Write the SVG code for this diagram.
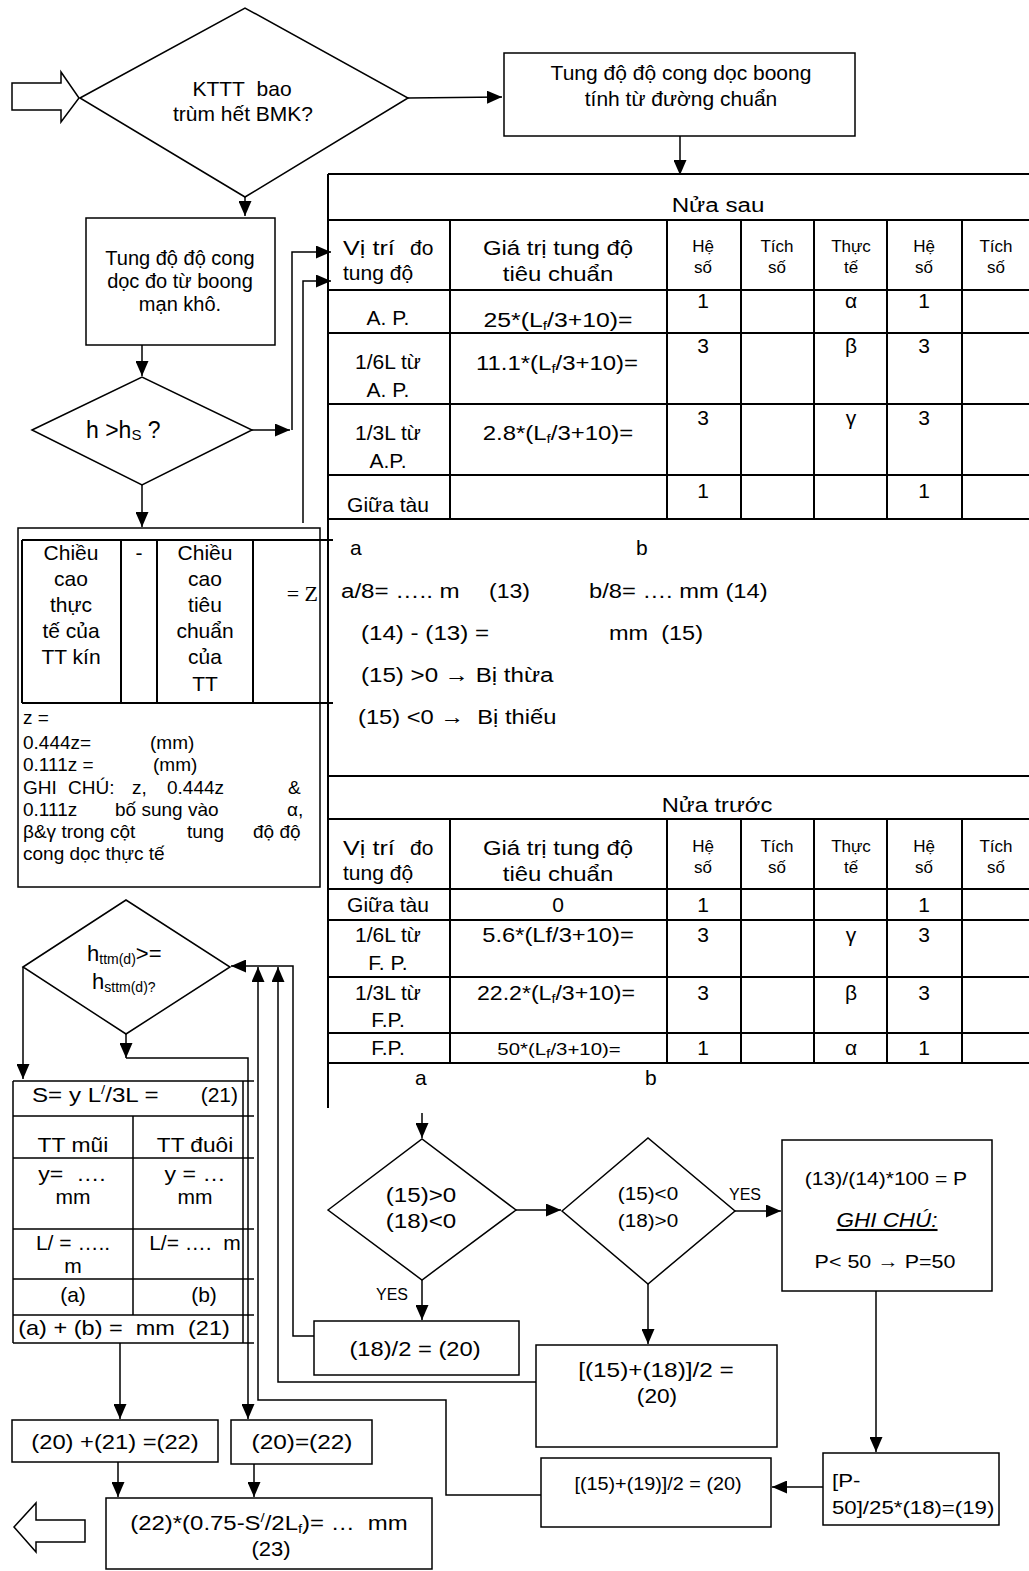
<svg xmlns="http://www.w3.org/2000/svg" width="1029" height="1571" viewBox="0 0 1029 1571">
<defs>
<marker id="ah" viewBox="0 0 15 13" refX="15" refY="6.5" markerWidth="15" markerHeight="13" markerUnits="userSpaceOnUse" orient="auto"><path d="M0,0L15,6.5L0,13z" fill="#000"/></marker>
<style>
.s{fill:none;stroke:#000;stroke-width:1.5}
.tb{fill:none;stroke:#000;stroke-width:2}
.c{fill:none;stroke:#000;stroke-width:1.5;marker-end:url(#ah)}
text{font-family:"Liberation Sans",Arial,sans-serif;font-size:21px;fill:#000}
.m{text-anchor:middle}
.e{text-anchor:end}
.sm{font-size:17px}
.xs{font-size:16px}
.f19{font-size:19px}
.sub{font-size:13px}
</style>
</defs>
<rect width="1029" height="1571" fill="#fff"/>

<g id="start-arrow"><polygon class="s" points="12,83 61,83 61,72 79,98 61,122 61,110 12,110"/></g>

<g id="d-kttt">
<polygon class="s" points="80,98 245,8 408,98 245,197"/>
<text class="m" x="242" y="96">KTTT&#160; bao</text>
<text class="m" x="243" y="121">trùm hết BMK?</text>
</g>

<g id="b-tungdo-chuan">
<rect class="s" x="504" y="53" width="351" height="83"/>
<text class="m" x="681" y="80">Tung độ độ cong dọc boong</text>
<text class="m" x="681" y="106">tính từ đường chuẩn</text>
</g>

<g id="b-tungdo-man">
<rect class="s" x="86" y="218" width="189" height="127"/>
<text class="m" x="180" y="265" style="font-size:20px">Tung độ độ cong</text>
<text class="m" x="180" y="288" style="font-size:20px">dọc đo từ boong</text>
<text class="m" x="180" y="311" style="font-size:20px">mạn khô.</text>
</g>

<g id="d-hhs">
<polygon class="s" points="32,430 142,377 252,430 142,485"/>
<text x="86" y="438" style="font-size:23px">h &gt;h<tspan style="font-size:15px" dy="2">S</tspan><tspan dy="-2"> ?</tspan></text>
</g>

<g id="b-z">
<rect class="s" x="18" y="528" width="302" height="359"/>
<path class="tb" d="M22,540H333M22,703H333M22,540V703M121,540V703M157,540V703M253,540V703"/>
<text class="m" x="71" y="560">Chiều</text>
<text class="m" x="71" y="586">cao</text>
<text class="m" x="71" y="612">thực</text>
<text class="m" x="71" y="638">tế của</text>
<text class="m" x="71" y="664">TT kín</text>
<text class="m" x="139" y="560">-</text>
<text class="m" x="205" y="560">Chiều</text>
<text class="m" x="205" y="586">cao</text>
<text class="m" x="205" y="612">tiêu</text>
<text class="m" x="205" y="638">chuẩn</text>
<text class="m" x="205" y="664">của</text>
<text class="m" x="205" y="691">TT</text>
<text x="318" y="601" style="font-family:'Liberation Serif','Times New Roman',serif;font-size:22px;text-anchor:end">= Z</text>
<text class="f19" x="23" y="724">z =</text>
<text class="f19" x="23" y="749">0.444z=</text><text class="f19" x="150" y="749">(mm)</text>
<text class="f19" x="23" y="771">0.111z =</text><text class="f19" x="153" y="771">(mm)</text>
<text class="f19" x="23" y="794">GHI</text><text class="f19" x="68" y="794">CHÚ:</text><text class="f19" x="132" y="794">z,</text><text class="f19" x="167" y="794">0.444z</text><text class="f19" x="288" y="794">&amp;</text>
<text class="f19" x="23" y="816">0.111z</text><text class="f19" x="115" y="816">bố sung vào</text><text class="f19" x="287" y="816">α,</text>
<text class="f19" x="23" y="838">β&amp;γ trong cột</text><text class="f19" x="187" y="838">tung</text><text class="f19" x="253" y="838">độ độ</text>
<text class="f19" x="23" y="860">cong dọc thực tế</text>
</g>

<g id="t-nua-sau">
<path class="tb" d="M328,174V1108M328,174H1029M328,220H1029M328,290H1029M328,333H1029M328,404H1029M328,475H1029M328,519H1029"/>
<path class="tb" d="M450,220V519M667,220V519M741,220V519M814,220V519M887,220V519M962,220V519"/>
<text class="m" transform="translate(718,212) scale(1.15,1)">Nửa sau</text>
<text transform="translate(343,255) scale(1.2,1)">Vị trí</text><text x="410" y="255">đo</text>
<text x="343" y="280">tung độ</text>
<text class="m" transform="translate(558,255) scale(1.14,1)">Giá trị tung độ</text>
<text class="m" transform="translate(558,281) scale(1.14,1)">tiêu chuẩn</text>
<text class="m sm" x="703" y="252">Hệ</text><text class="m sm" x="703" y="273">số</text>
<text class="m sm" x="777" y="252">Tích</text><text class="m sm" x="777" y="273">số</text>
<text class="m sm" x="851" y="252">Thực</text><text class="m sm" x="851" y="273">tế</text>
<text class="m sm" x="924" y="252">Hệ</text><text class="m sm" x="924" y="273">số</text>
<text class="m sm" x="996" y="252">Tích</text><text class="m sm" x="996" y="273">số</text>
<text class="m" x="388" y="325">A. P.</text>
<text class="m" transform="translate(558,327) scale(1.18,1)">25*(L<tspan class="sub" dy="3">f</tspan><tspan dy="-3">/3+10)=</tspan></text>
<text class="m" x="703" y="308">1</text><text class="m" x="851" y="308">α</text><text class="m" x="924" y="308">1</text>
<text class="m" x="388" y="369">1/6L từ</text><text class="m" x="388" y="397">A. P.</text>
<text class="m" transform="translate(557,370) scale(1.14,1)">11.1*(L<tspan class="sub" dy="3">f</tspan><tspan dy="-3">/3+10)=</tspan></text>
<text class="m" x="703" y="353">3</text><text class="m" x="851" y="353">β</text><text class="m" x="924" y="353">3</text>
<text class="m" x="388" y="440">1/3L từ</text><text class="m" x="388" y="468">A.P.</text>
<text class="m" transform="translate(558,440) scale(1.14,1)">2.8*(L<tspan class="sub" dy="3">f</tspan><tspan dy="-3">/3+10)=</tspan></text>
<text class="m" x="703" y="425">3</text><text class="m" x="851" y="425">γ</text><text class="m" x="924" y="425">3</text>
<text class="m" x="388" y="512">Giữa tàu</text>
<text class="m" x="703" y="498">1</text><text class="m" x="924" y="498">1</text>
</g>

<g id="calc-text">
<text x="350" y="555">a</text><text x="636" y="555">b</text>
<text transform="translate(341,598) scale(1.15,1)">a/8= ….. m</text><text transform="translate(489,598) scale(1.1,1)">(13)</text>
<text transform="translate(589,598) scale(1.13,1)">b/8= …. mm (14)</text>
<text transform="translate(361,640) scale(1.15,1)">(14) - (13) =</text><text transform="translate(609,640) scale(1.12,1)">mm&#160; (15)</text>
<text transform="translate(361,682) scale(1.15,1)">(15) &gt;0 → Bị thừa</text>
<text transform="translate(358,724) scale(1.13,1)">(15) &lt;0 →&#160; Bị thiếu</text>
</g>

<g id="t-nua-truoc">
<path class="tb" d="M328,776H1029M328,819H1029M328,889H1029M328,920H1029M328,977H1029M328,1033H1029M328,1063H1029"/>
<path class="tb" d="M450,819V1063M667,819V1063M741,819V1063M814,819V1063M887,819V1063M962,819V1063"/>
<text class="m" transform="translate(717,812) scale(1.13,1)">Nửa trước</text>
<text transform="translate(343,855) scale(1.2,1)">Vị trí</text><text x="410" y="855">đo</text>
<text x="343" y="880">tung độ</text>
<text class="m" transform="translate(558,855) scale(1.14,1)">Giá trị tung độ</text>
<text class="m" transform="translate(558,881) scale(1.14,1)">tiêu chuẩn</text>
<text class="m sm" x="703" y="852">Hệ</text><text class="m sm" x="703" y="873">số</text>
<text class="m sm" x="777" y="852">Tích</text><text class="m sm" x="777" y="873">số</text>
<text class="m sm" x="851" y="852">Thực</text><text class="m sm" x="851" y="873">tế</text>
<text class="m sm" x="924" y="852">Hệ</text><text class="m sm" x="924" y="873">số</text>
<text class="m sm" x="996" y="852">Tích</text><text class="m sm" x="996" y="873">số</text>
<text class="m" x="388" y="912">Giữa tàu</text><text class="m" x="558" y="912">0</text>
<text class="m" x="703" y="912">1</text><text class="m" x="924" y="912">1</text>
<text class="m" x="388" y="942">1/6L từ</text><text class="m" x="388" y="970">F. P.</text>
<text class="m" transform="translate(558,942) scale(1.13,1)">5.6*(Lf/3+10)=</text>
<text class="m" x="703" y="942">3</text><text class="m" x="851" y="942">γ</text><text class="m" x="924" y="942">3</text>
<text class="m" x="388" y="1000">1/3L từ</text><text class="m" x="388" y="1027">F.P.</text>
<text class="m" transform="translate(556,1000) scale(1.1,1)">22.2*(L<tspan class="sub" dy="3">f</tspan><tspan dy="-3">/3+10)=</tspan></text>
<text class="m" x="703" y="1000">3</text><text class="m" x="851" y="1000">β</text><text class="m" x="924" y="1000">3</text>
<text class="m" x="388" y="1055">F.P.</text>
<text class="m sm" transform="translate(559,1055) scale(1.2,1)">50*(L<tspan class="sub" dy="3">f</tspan><tspan dy="-3">/3+10)=</tspan></text>
<text class="m" x="703" y="1055">1</text><text class="m" x="851" y="1055">α</text><text class="m" x="924" y="1055">1</text>
<text x="415" y="1085">a</text><text x="645" y="1085">b</text>
</g>

<g id="d-httm">
<polygon class="s" points="23,967 126,900 230,967 126,1034"/>
<text x="87" y="961" style="font-size:22px">h<tspan style="font-size:14px" dy="3">ttm(d)</tspan><tspan dy="-3">&gt;=</tspan></text>
<text x="92" y="989" style="font-size:22px">h<tspan style="font-size:14px" dy="3">sttm(d)?</tspan></text>
</g>

<g id="t-s">
<path class="s" d="M13,1081V1343M243,1081V1343M13,1081H254M13,1116H254M13,1158H254M13,1229H254M13,1279H254M13,1315H254M13,1343H254M133,1116V1315"/>
<text transform="translate(32,1102) scale(1.15,1)">S= y L<tspan class="sub" dy="-8">/</tspan><tspan dy="8">/3L =</tspan></text>
<text class="e" x="238" y="1102">(21)</text>
<text class="m" transform="translate(73,1152) scale(1.09,1)">TT mũi</text><text class="m" transform="translate(195,1152) scale(1.08,1)">TT đuôi</text>
<text class="m" transform="translate(72,1181) scale(1.1,1)">y=&#160; ….</text><text class="m" x="73" y="1204">mm</text>
<text class="m" transform="translate(195,1181) scale(1.1,1)">y = …</text><text class="m" x="195" y="1204">mm</text>
<text class="m" x="73" y="1250">L/ = …..</text><text class="m" x="73" y="1273">m</text>
<text class="m" x="195" y="1250">L/= ….&#160; m</text>
<text class="m" x="73" y="1302">(a)</text><text class="m" x="204" y="1302">(b)</text>
<text class="m" transform="translate(124,1335) scale(1.12,1)">(a) + (b) =&#160; mm&#160; (21)</text>
</g>

<g id="b-22a">
<rect class="s" x="12" y="1420" width="206" height="42"/>
<text class="m" transform="translate(115,1449) scale(1.13,1)">(20) +(21) =(22)</text>
</g>
<g id="b-22b">
<rect class="s" x="231" y="1420" width="141" height="44"/>
<text class="m" transform="translate(302,1449) scale(1.16,1)">(20)=(22)</text>
</g>
<g id="b-23">
<rect class="s" x="106" y="1498" width="326" height="71"/>
<text class="m" transform="translate(269,1530) scale(1.14,1)">(22)*(0.75-S<tspan class="sub" dy="-8">/</tspan><tspan dy="8">/2L</tspan><tspan class="sub" dy="3">f</tspan><tspan dy="-3">)= …&#160; mm</tspan></text>
<text class="m" transform="translate(271,1556) scale(1.05,1)">(23)</text>
</g>
<g id="end-arrow"><polygon class="s" points="85,1520 36,1520 36,1503 14,1527 36,1552 36,1542 85,1542"/></g>

<g id="d-15-18a">
<polygon class="s" points="328,1210 422,1139 516,1210 422,1280"/>
<text class="m" transform="translate(421,1202) scale(1.15,1)">(15)&gt;0</text>
<text class="m" transform="translate(421,1228) scale(1.15,1)">(18)&lt;0</text>
</g>
<g id="d-15-18b">
<polygon class="s" points="562,1211 648,1138 735,1211 648,1284"/>
<text class="m f19" transform="translate(648,1200) scale(1.09,1)">(15)&lt;0</text>
<text class="m f19" transform="translate(648,1227) scale(1.09,1)">(18)&gt;0</text>
</g>
<g id="b-p">
<rect class="s" x="782" y="1140" width="210" height="151"/>
<text class="m f19" transform="translate(886,1185) scale(1.11,1)">(13)/(14)*100 = P</text>
<text class="m" transform="translate(887,1227) scale(1.07,1)" style="font-style:italic;text-decoration:underline">GHI CHÚ:</text>
<text class="m f19" transform="translate(885,1268) scale(1.13,1)">P&lt; 50 → P=50</text>
</g>
<g id="b-18-2">
<rect class="s" x="314" y="1321" width="205" height="54"/>
<text class="m" transform="translate(415,1356) scale(1.13,1)">(18)/2 = (20)</text>
</g>
<g id="b-15-18">
<rect class="s" x="536" y="1345" width="241" height="102"/>
<text class="m" transform="translate(656,1377) scale(1.16,1)">[(15)+(18)]/2 =</text>
<text class="m" transform="translate(657,1403) scale(1.08,1)">(20)</text>
</g>
<g id="b-19">
<rect class="s" x="823" y="1453" width="176" height="72"/>
<text class="f19" transform="translate(832,1487) scale(1.17,1)">[P-</text>
<text class="f19" transform="translate(832,1514) scale(1.17,1)">50]/25*(18)=(19)</text>
</g>
<g id="b-15-19">
<rect class="s" x="541" y="1458" width="230" height="69"/>
<text class="m" transform="translate(658,1490) scale(1.1,1)" style="font-size:18px">[(15)+(19)]/2 = (20)</text>
</g>

<g id="connectors">
<path class="c" d="M408,98L502,97"/>
<path class="c" d="M245,197V216"/>
<path class="c" d="M680,136V175"/>
<path class="c" d="M142,345V376"/>
<path class="c" d="M252,430H290"/>
<path class="c" d="M292,430V252H331"/>
<path class="c" d="M303,523V281H331"/>
<path class="c" d="M142,485V527"/>
<path class="c" d="M23,967V1079"/>
<path class="c" d="M126,1034V1058"/>
<path class="c" d="M126,1058H248V1419"/>
<path class="c" d="M314,1336H293V966H231"/>
<path class="c" d="M541,1495H446V1400H258V967"/>
<path class="c" d="M536,1382H278V967"/>
<path class="c" d="M120,1343V1419"/>
<path class="c" d="M118,1462V1497"/>
<path class="c" d="M254,1464V1497"/>
<path class="c" d="M422,1113V1138"/>
<path class="c" d="M516,1210H561"/>
<path class="c" d="M735,1211H781"/>
<path class="c" d="M422,1280V1320"/>
<path class="c" d="M648,1284V1344"/>
<path class="c" d="M876,1291V1452"/>
<path class="c" d="M823,1487H772"/>
<text class="xs" x="729" y="1200">YES</text>
<text class="xs m" x="392" y="1300">YES</text>
</g>
</svg>
